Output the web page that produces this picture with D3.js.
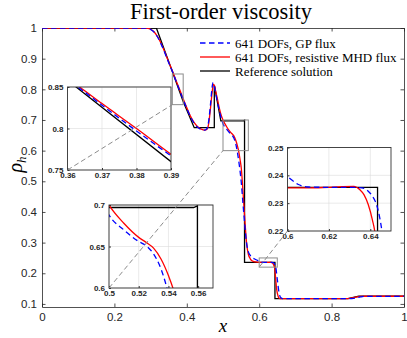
<!DOCTYPE html>
<html>
<head>
<meta charset="utf-8">
<style>
  body { margin: 0; background: #fff; }
  svg { display: block; }
</style>
</head>
<body>
<svg width="407" height="338"></svg>
<script src="https://d3js.org/d3.v7.min.js"></script>
<script>

// ---- data ----
var xTicks = [0, 0.2, 0.4, 0.6, 0.8, 1];
var xTickLabels = ["0", "0.2", "0.4", "0.6", "0.8", "1"];
var yTicks = [0.1, 0.2, 0.3, 0.4, 0.5, 0.6, 0.7, 0.8, 0.9, 1];
var yTickLabels = ["0.1", "0.2", "0.3", "0.4", "0.5", "0.6", "0.7", "0.8", "0.9", "1"];

var refX = [0, 0.316, 0.3625, 0.39, 0.4205, 0.476, 0.476, 0.494, 0.557, 0.5595, 0.5595, 0.6435, 0.6435, 0.845, 0.875, 1];
var refY = [1, 1, 0.85, 0.76, 0.675, 0.675, 0.814, 0.697, 0.697, 0.699, 0.2357, 0.2357, 0.117, 0.117, 0.125, 0.125];

var mhdX = [0, 0.28, 0.29, 0.30, 0.31, 0.32, 0.33, 0.34, 0.35, 0.3635, 0.37, 0.38, 0.39, 0.40, 0.41, 0.42, 0.43, 0.44, 0.45,
            0.455, 0.46, 0.465, 0.47, 0.4735, 0.477, 0.48, 0.485, 0.49, 0.495, 0.50, 0.51, 0.52, 0.525, 0.53, 0.535, 0.54,
            0.543, 0.547, 0.551, 0.555, 0.56, 0.565, 0.57, 0.575, 0.58, 0.59, 0.60, 0.61, 0.62, 0.632, 0.635, 0.637, 0.639,
            0.641, 0.6425, 0.645, 0.648, 0.652, 0.656, 0.66, 0.70, 0.80, 0.84, 0.85, 0.86, 0.87, 0.88, 0.89, 1];
var mhdY = [1, 1, 0.999, 0.996, 0.987, 0.970, 0.947, 0.919, 0.889, 0.850, 0.830, 0.800, 0.769, 0.740, 0.713, 0.692, 0.678, 0.670, 0.667,
            0.669, 0.685, 0.733, 0.790, 0.817, 0.810, 0.793, 0.766, 0.738, 0.716, 0.700, 0.678, 0.661, 0.655, 0.648, 0.635, 0.615,
            0.600, 0.572, 0.537, 0.47, 0.38, 0.30, 0.262, 0.248, 0.241, 0.237, 0.2355, 0.2355, 0.2357, 0.2360, 0.2348, 0.2330, 0.2295,
            0.224, 0.218, 0.19, 0.15, 0.126, 0.118, 0.117, 0.117, 0.117, 0.1172, 0.118, 0.1205, 0.123, 0.1245, 0.125, 0.125];

var gpX = [0, 0.28, 0.29, 0.30, 0.31, 0.32, 0.33, 0.34, 0.35, 0.363, 0.37, 0.38, 0.39, 0.40, 0.41, 0.42, 0.43, 0.44, 0.45,
           0.455, 0.46, 0.465, 0.47, 0.472, 0.476, 0.48, 0.485, 0.49, 0.495, 0.50, 0.51, 0.52, 0.525, 0.53, 0.535, 0.539,
           0.543, 0.547, 0.551, 0.555, 0.56, 0.565, 0.57, 0.575, 0.58, 0.59, 0.60, 0.605, 0.61, 0.62, 0.63, 0.636, 0.639,
           0.641, 0.643, 0.6445, 0.6458, 0.65, 0.655, 0.66, 0.665, 0.70, 0.80, 0.84, 0.85, 0.86, 0.87, 0.88, 0.89, 1];
var gpY = [1, 1, 0.999, 0.995, 0.986, 0.969, 0.945, 0.917, 0.887, 0.850, 0.828, 0.797, 0.767, 0.738, 0.711, 0.690, 0.676, 0.669, 0.667,
           0.671, 0.693, 0.745, 0.808, 0.822, 0.810, 0.787, 0.757, 0.729, 0.706, 0.688, 0.670, 0.656, 0.651, 0.641, 0.623, 0.600,
           0.570, 0.535, 0.49, 0.43, 0.36, 0.30, 0.27, 0.259, 0.252, 0.245, 0.2395, 0.2368, 0.2358, 0.2357, 0.2357, 0.2355, 0.2343,
           0.2325, 0.2295, 0.225, 0.219, 0.18, 0.135, 0.12, 0.1172, 0.117, 0.117, 0.117, 0.1172, 0.118, 0.1205, 0.123, 0.1245, 0.125, 0.125];

var legendLabels = ["641 DOFs, GP flux", "641 DOFs, resistive MHD flux", "Reference solution"];

// zoom windows
var zoom1X = [0.36, 0.39], zoom1Y = [0.75, 0.85];
var zoom1XTicks = [0.36, 0.37, 0.38, 0.39], zoom1YTicks = [0.75, 0.8, 0.85];
var zoom2X = [0.5, 0.57], zoom2Y = [0.6, 0.7];
var zoom2XTicks = [0.5, 0.52, 0.54, 0.56], zoom2YTicks = [0.6, 0.65, 0.7];
var zoom3X = [0.6, 0.65], zoom3Y = [0.22, 0.25];
var zoom3XTicks = [0.6, 0.62, 0.64], zoom3YTicks = [0.22, 0.23, 0.24, 0.25];

// ---- layout ----
var W = 407, H = 338;
var m = {left: 42, right: 404, top: 28, bottom: 307};

var svg = d3.select("svg").attr("viewBox", [0, 0, W, H]);

var x = d3.scaleLinear().domain([0, 1]).range([m.left, m.right]);
var y = d3.scaleLinear().domain([0.09, 1]).range([m.bottom, m.top]);

var series = [
  {xs: refX, ys: refY, color: "#000", dash: null, curve: d3.curveLinear},
  {xs: mhdX, ys: mhdY, color: "#ff0000", dash: null, curve: d3.curveMonotoneX},
  {xs: gpX, ys: gpY, color: "#0000ff", dash: "5.5,3.5", curve: d3.curveMonotoneX}
];

function drawLines(g, sx, sy, clipId) {
  series.forEach(function(s) {
    var pts = s.xs.map(function(v, i) { return [v, s.ys[i]]; });
    var line = d3.line().x(d => sx(d[0])).y(d => sy(d[1])).curve(s.curve);
    g.append("path")
      .attr("d", line(pts))
      .attr("fill", "none")
      .attr("stroke", s.color)
      .attr("stroke-width", 1.3)
      .attr("stroke-dasharray", s.dash)
      .attr("clip-path", "url(#" + clipId + ")");
  });
}

// title
svg.append("text")
  .attr("x", 221).attr("y", 19)
  .attr("text-anchor", "middle")
  .attr("font-family", "Liberation Serif, serif")
  .attr("font-size", 22.5)
  .attr("fill", "#000")
  .text("First-order viscosity");

// main clip
svg.append("clipPath").attr("id", "clipMain")
  .append("rect").attr("x", m.left).attr("y", m.top)
  .attr("width", m.right - m.left).attr("height", m.bottom - m.top);

var axisColor = "#262626";

// axes (ticks inward, box)
function styleAxis(g) {
  g.selectAll("path").attr("stroke", axisColor).attr("stroke-width", 0.8);
  g.selectAll("line").attr("stroke", axisColor).attr("stroke-width", 0.8);
  g.selectAll("text").attr("fill", axisColor)
    .attr("font-family", "Liberation Sans, Arial, sans-serif").attr("font-size", 11.5);
}

svg.append("g").attr("transform", "translate(0," + m.bottom + ")")
  .call(d3.axisBottom(x).tickValues(xTicks).tickFormat((d, i) => xTickLabels[i]).tickSizeInner(-3.5).tickSizeOuter(0).tickPadding(6))
  .call(styleAxis);
svg.append("g").attr("transform", "translate(" + m.left + ",0)")
  .call(d3.axisLeft(y).tickValues(yTicks).tickFormat((d, i) => yTickLabels[i]).tickSizeInner(-3.5).tickSizeOuter(0).tickPadding(5))
  .call(styleAxis);
svg.append("g").attr("transform", "translate(0," + m.top + ")")
  .call(d3.axisTop(x).tickValues(xTicks).tickFormat("").tickSizeInner(-3.5).tickSizeOuter(0))
  .call(styleAxis);
svg.append("g").attr("transform", "translate(" + m.right + ",0)")
  .call(d3.axisRight(y).tickValues(yTicks).tickFormat("").tickSizeInner(-3.5).tickSizeOuter(0))
  .call(styleAxis);

// axis labels
svg.append("text")
  .attr("x", (m.left + m.right) / 2).attr("y", 332)
  .attr("text-anchor", "middle")
  .attr("font-family", "Liberation Serif, serif")
  .attr("font-style", "italic")
  .attr("font-size", 19)
  .text("x");

var yl = svg.append("text")
  .attr("transform", "translate(22," + ((m.top + m.bottom) / 2 - 3) + ") rotate(-90)")
  .attr("text-anchor", "middle")
  .attr("font-family", "Liberation Serif, serif")
  .attr("font-style", "italic")
  .attr("font-size", 20);
yl.append("tspan").text("ρ");
yl.append("tspan").attr("font-size", 13).attr("dy", 4).text("h");

// main lines
var gMain = svg.append("g");
drawLines(gMain, x, y, "clipMain");

// legend
var legendColors = ["#0000ff", "#ff0000", "#000"];
var legendDash = ["5.5,3.5", null, null];
var lg = svg.append("g");
legendLabels.forEach(function(t, i) {
  var ly = 43 + i * 14;
  lg.append("line").attr("x1", 200).attr("x2", 230).attr("y1", ly).attr("y2", ly)
    .attr("stroke", legendColors[i]).attr("stroke-width", 1.3).attr("stroke-dasharray", legendDash[i]);
  lg.append("text").attr("x", 235).attr("y", ly + 4.5)
    .attr("font-family", "Liberation Serif, serif").attr("font-size", 13)
    .attr("fill", "#000").text(t);
});

// insets
var insets = [
  {id: "in1", left: 67.5, top: 87, w: 103.5, h: 83, xd: zoom1X, yd: zoom1Y, xt: zoom1XTicks, yt: zoom1YTicks},
  {id: "in2", left: 109, top: 205, w: 104, h: 83, xd: zoom2X, yd: zoom2Y, xt: zoom2XTicks, yt: zoom2YTicks},
  {id: "in3", left: 287.5, top: 147.5, w: 103.5, h: 83.5, xd: zoom3X, yd: zoom3Y, xt: zoom3XTicks, yt: zoom3YTicks}
];

// zoom rectangles in main plot
insets.forEach(function(s) {
  svg.append("rect")
    .attr("x", x(s.xd[0])).attr("y", y(s.yd[1]))
    .attr("width", x(s.xd[1]) - x(s.xd[0])).attr("height", y(s.yd[0]) - y(s.yd[1]))
    .attr("fill", "none").attr("stroke", "#8c8c8c").attr("stroke-width", 1);
});

insets.forEach(function(s) {
  var sx = d3.scaleLinear().domain(s.xd).range([s.left, s.left + s.w]);
  var sy = d3.scaleLinear().domain(s.yd).range([s.top + s.h, s.top]);
  var g = svg.append("g");
  g.append("clipPath").attr("id", "clip" + s.id)
    .append("rect").attr("x", s.left).attr("y", s.top).attr("width", s.w).attr("height", s.h);
  g.append("rect").attr("x", s.left).attr("y", s.top).attr("width", s.w).attr("height", s.h).attr("fill", "#fff");

  // grid
  g.selectAll(".gx").data(s.xt).join("line")
    .attr("x1", d => sx(d)).attr("x2", d => sx(d)).attr("y1", s.top).attr("y2", s.top + s.h)
    .attr("stroke", "#dcdcdc").attr("stroke-width", 0.6);
  g.selectAll(".gy").data(s.yt).join("line")
    .attr("class", "gy")
    .attr("x1", s.left).attr("x2", s.left + s.w).attr("y1", d => sy(d)).attr("y2", d => sy(d))
    .attr("stroke", "#dcdcdc").attr("stroke-width", 0.6);

  drawLines(g, sx, sy, "clip" + s.id);

  g.append("rect").attr("x", s.left).attr("y", s.top).attr("width", s.w).attr("height", s.h)
    .attr("fill", "none").attr("stroke", "#333").attr("stroke-width", 0.9);

  g.append("g").attr("transform", "translate(0," + (s.top + s.h) + ")")
    .call(d3.axisBottom(sx).tickValues(s.xt).tickFormat(d3.format("~g")).tickSizeInner(-2).tickSizeOuter(0).tickPadding(2))
    .call(function(a) {
      a.select(".domain").remove();
      a.selectAll("line").attr("stroke", "#333");
      a.selectAll("text").attr("fill", "#262626").attr("font-family", "Liberation Sans, Arial, sans-serif")
        .attr("font-size", 8).attr("font-weight", "bold");
    });
  g.append("g").attr("transform", "translate(" + s.left + ",0)")
    .call(d3.axisLeft(sy).tickValues(s.yt).tickFormat(d3.format("~g")).tickSizeInner(-2).tickSizeOuter(0).tickPadding(4))
    .call(function(a) {
      a.select(".domain").remove();
      a.selectAll("line").attr("stroke", "#333");
      a.selectAll("text").attr("fill", "#262626").attr("font-family", "Liberation Sans, Arial, sans-serif")
        .attr("font-size", 8).attr("font-weight", "bold");
    });
});

// dashed connectors: inset bottom-left corner to zoom rectangle bottom-left corner
insets.forEach(function(s) {
  svg.append("line")
    .attr("x1", s.left).attr("y1", s.top + s.h)
    .attr("x2", x(s.xd[0])).attr("y2", y(s.yd[0]))
    .attr("stroke", "#8c8c8c").attr("stroke-width", 1)
    .attr("stroke-dasharray", "5,3");
});

</script>
</body>
</html>
